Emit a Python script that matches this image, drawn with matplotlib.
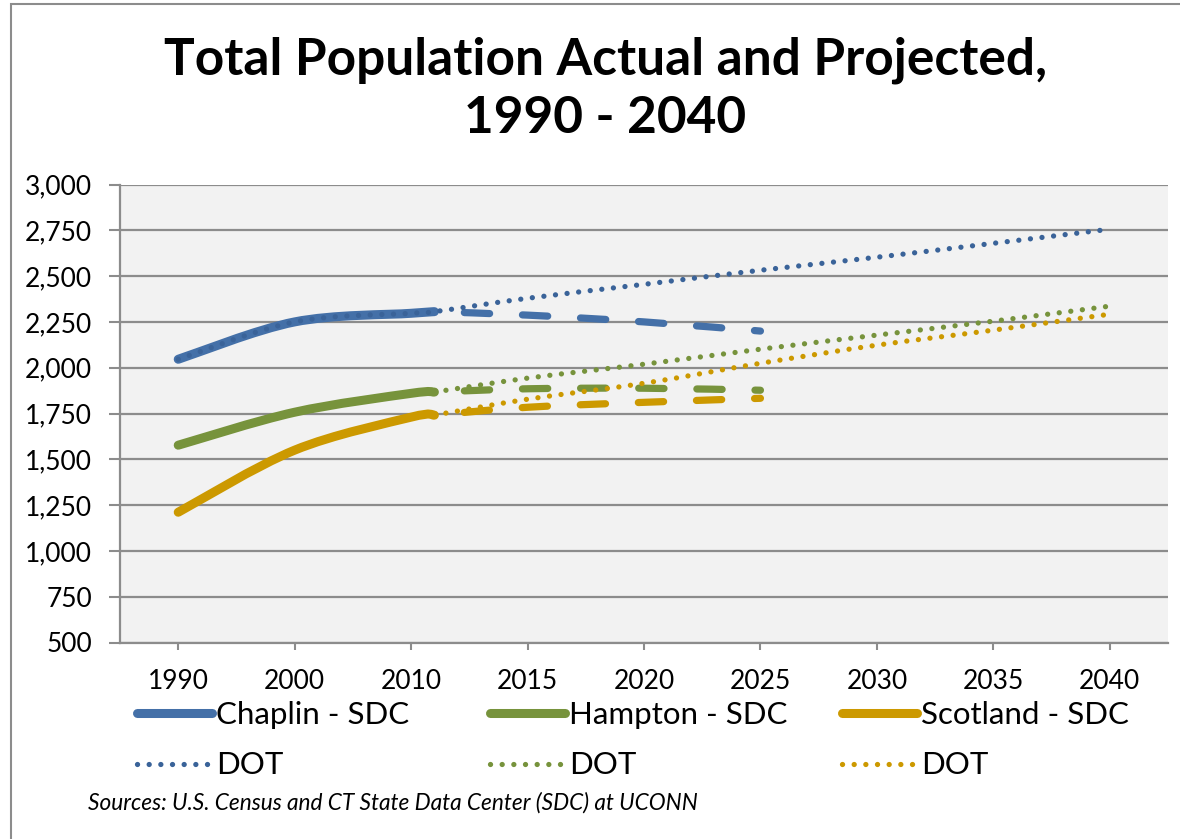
import numpy as np
import matplotlib
matplotlib.use("Agg")
import matplotlib.pyplot as plt
from matplotlib.path import Path
from matplotlib.patches import PathPatch, Rectangle
from matplotlib.lines import Line2D

# ------------------------------------------------------------------
# data
# ------------------------------------------------------------------
TICK_YEARS = [1990, 2000, 2010, 2015, 2020, 2025, 2030, 2035, 2040]

ACT_YEARS = [1990, 2000, 2010, 2011]
chaplin_act = [2046, 2250, 2297, 2306]
hampton_act = [1577, 1757, 1860, 1867]
scotland_act = [1211, 1550, 1730, 1741]

PROJ_YEARS = [2011, 2015, 2020, 2025]
chaplin_proj = [2306, 2287, 2250, 2200]
hampton_proj = [1867, 1885, 1888, 1877]
scotland_proj = [1741, 1784, 1811, 1833]

DOT_YEARS = [2011, 2015, 2020, 2025, 2030, 2035, 2040]
chaplin_dot = [2306, 2379, 2455, 2532, 2603, 2679, 2756]
hampton_dot = [1867, 1943, 2019, 2101, 2178, 2254, 2336]
scotland_dot = [1741, 1828, 1915, 2024, 2123, 2205, 2292]

# Chaplin DOT series also covers the historic years
CHAPLIN_DOT_HIST_YEARS = [1990, 2000, 2010]
chaplin_dot_hist = [2046, 2250, 2297]

BLUE, BLUE_DOT = "#4470A8", "#3A6399"
GREEN = "#77933C"
GOLD = "#CC9900"
GRID = "#8C8C8C"
FONT = "Lato"

# ------------------------------------------------------------------
# category-like x axis: each tick year gets one equal slot
# ------------------------------------------------------------------
scale_years = [1980] + TICK_YEARS + [2045]
scale_pos = [-1] + list(range(len(TICK_YEARS))) + [len(TICK_YEARS)]


def fwd(x):
    return np.interp(x, scale_years, scale_pos)


def inv(p):
    return np.interp(p, scale_pos, scale_years)


def smooth_path(years, vals):
    """Excel-like smoothed line as cubic bezier through the points."""
    px = fwd(np.asarray(years, float))
    py = np.asarray(vals, float)
    n = len(px)
    verts = [(years[0], py[0])]
    codes = [Path.MOVETO]
    for i in range(n - 1):
        i0, i2 = max(i - 1, 0), min(i + 2, n - 1)
        c1x = px[i] + (px[i + 1] - px[i0]) / 6
        c1y = py[i] + (py[i + 1] - py[i0]) / 6
        c2x = px[i + 1] - (px[i2] - px[i]) / 6
        c2y = py[i + 1] - (py[i2] - py[i]) / 6
        verts += [(inv(c1x), c1y), (inv(c2x), c2y), (years[i + 1], py[i + 1])]
        codes += [Path.CURVE4] * 3
    return Path(verts, codes)


SOLID = dict(lw=6.5, ls="-")
DASHED = dict(lw=5.2, ls=(3.9, (3.5, 4.55)))
DOTTED = dict(lw=3.8, ls=(0, (0.01, 2.2)))


def draw(ax, years, vals, color, style, z):
    patch = PathPatch(smooth_path(years, vals), fill=False, edgecolor=color,
                      linewidth=style["lw"], linestyle=style["ls"],
                      capstyle="round", joinstyle="round", zorder=z)
    ax.add_patch(patch)


fig = plt.figure(figsize=(11.8, 8.39), dpi=100)
ax = fig.add_axes([120 / 1180, 1 - 642.5 / 839, 1048 / 1180, 458 / 839])
ax.set_facecolor("#F2F2F2")
ax.set_xscale("function", functions=(fwd, inv))
ax.set_xlim(1985, 2042.5)
ax.set_ylim(500, 3000)

# actual (solid), SDC projection (dashed), DOT (dotted)
draw(ax, ACT_YEARS, chaplin_act, BLUE, SOLID, 3)
draw(ax, ACT_YEARS, hampton_act, GREEN, SOLID, 3)
draw(ax, ACT_YEARS, scotland_act, GOLD, SOLID, 3)
draw(ax, PROJ_YEARS, chaplin_proj, BLUE, DASHED, 4)
draw(ax, PROJ_YEARS, hampton_proj, GREEN, DASHED, 4)
draw(ax, PROJ_YEARS, scotland_proj, GOLD, DASHED, 4)
draw(ax, CHAPLIN_DOT_HIST_YEARS + DOT_YEARS, chaplin_dot_hist + chaplin_dot,
     BLUE_DOT, DOTTED, 5)
draw(ax, DOT_YEARS, hampton_dot, GREEN, DOTTED, 5)
draw(ax, DOT_YEARS, scotland_dot, GOLD, DOTTED, 5)

# axes styling
yt = np.arange(500, 3001, 250)
ax.set_yticks(yt)
ax.set_yticklabels([f"{v:,}" for v in yt], fontsize=19, family=FONT)
ax.set_xticks(TICK_YEARS)
ax.set_xticklabels([str(y) for y in TICK_YEARS], fontsize=19, family=FONT)
ax.xaxis.set_minor_locator(plt.NullLocator())
ax.tick_params(axis="y", length=8, width=1.5, color=GRID, pad=12)
ax.tick_params(axis="x", length=5, width=1.5, color=GRID, pad=14)
ax.grid(axis="y", color=GRID, lw=1.6)
ax.set_axisbelow(True)
for s in ["top", "right"]:
    ax.spines[s].set_visible(False)
for s in ["left", "bottom"]:
    ax.spines[s].set_color(GRID)
    ax.spines[s].set_linewidth(1.6)

# legend: one small block per town, laid out in three columns
towns = [("Chaplin - SDC", BLUE, BLUE_DOT, 137),
         ("Hampton - SDC", GREEN, GREEN, 490),
         ("Scotland - SDC", GOLD, GOLD, 842)]
for name, c_solid, c_dot, xpix in towns:
    handles = [
        Line2D([], [], color=c_solid, lw=SOLID["lw"], solid_capstyle="round"),
        Line2D([], [], color=c_dot, lw=DOTTED["lw"], ls=DOTTED["ls"],
               dash_capstyle="round"),
    ]
    fig.legend(handles, [name, "DOT"], loc="upper left",
               bbox_to_anchor=(xpix / 1180, 1 - 701 / 839),
               frameon=False, prop={"family": FONT, "size": 22.5},
               handlelength=2.4, handletextpad=0.12, labelspacing=0.72,
               borderpad=0, borderaxespad=0)

# title and source note
fig.text(0.513, 1 - 74 / 839, "Total Population Actual and Projected,",
         ha="center", va="baseline", fontsize=37, fontweight="bold", family=FONT)
fig.text(0.513, 1 - 133 / 839, "1990 - 2040",
         ha="center", va="baseline", fontsize=37, fontweight="bold", family=FONT)
fig.text(88 / 1180, 1 - 810 / 839,
         "Sources: U.S. Census and CT State Data Center (SDC) at UCONN",
         ha="left", va="baseline", fontsize=16.3, style="italic", family=FONT)

# outer chart border (only left/top edges fall inside the picture)
fig.patches.append(Rectangle((11 / 1180, -0.05), 1.2, 1.05 - 4 / 839,
                             transform=fig.transFigure, fill=False,
                             edgecolor=GRID, lw=1.5))

fig.savefig("out.png", dpi=100)
